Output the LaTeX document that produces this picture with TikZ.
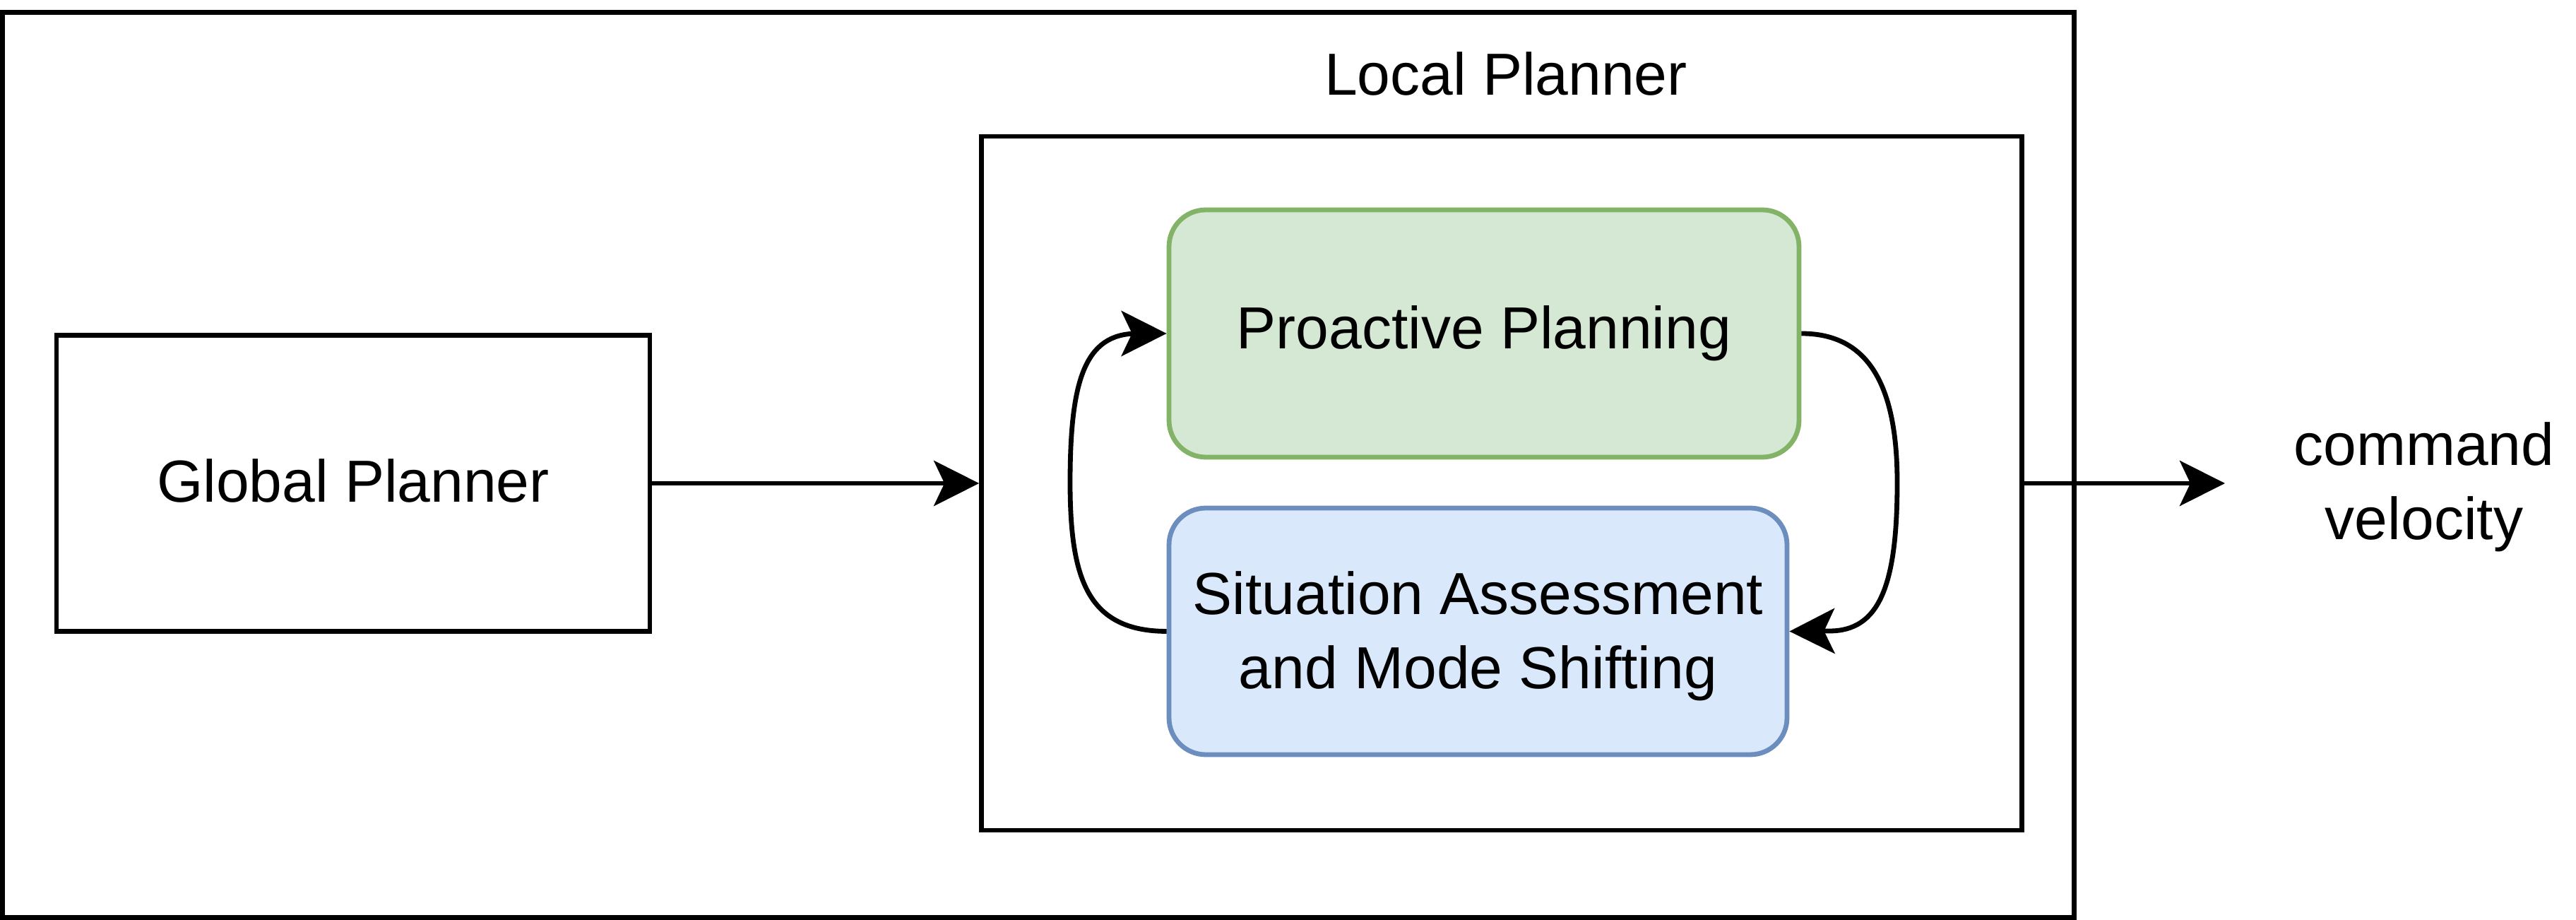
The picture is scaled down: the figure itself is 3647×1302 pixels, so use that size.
\documentclass[tikz,border=0pt]{standalone}
\usepackage{fontspec}
\setmainfont{Liberation Sans}
\usetikzlibrary{arrows.meta}
\definecolor{pgreenfill}{HTML}{D5E8D4}
\definecolor{pgreenline}{HTML}{82B366}
\definecolor{pbluefill}{HTML}{DAE8FC}
\definecolor{pblueline}{HTML}{6C8EBF}
\tikzset{
  box/.style={draw=black, line width=0.68pt, inner sep=0pt, align=center},
  roundbox/.style={box, rounded corners=5.2pt},
  txt/.style={inner sep=0pt, align=center},
  conn/.style={draw=black, line width=0.68pt, -{Stealth[length=6.4pt,width=6.4pt,inset=1.5pt]}},
}
\begin{document}
\begin{tikzpicture}[x=0.1pt,y=-0.1pt,
  every node/.append style={font=\fontsize{8.4pt}{10.5pt}\selectfont}]
\useasboundingbox (0,0) rectangle (3647,1302);
% outer frame
\node[box, minimum width=293.3pt, minimum height=128.1pt] (outer) at (1470,658) {};
% global planner
\node[box, minimum width=84pt, minimum height=41.9pt] (global) at (500,684) {\raisebox{0.4pt}[\height][\depth]{Global Planner}};
% local planner frame
\node[box, minimum width=147.3pt, minimum height=98.2pt] (local) at (2126,684) {};
\node[txt] (locallabel) at (2132,104) {Local Planner};
% inner boxes
\node[roundbox, draw=pgreenline, fill=pgreenfill, minimum width=89.2pt, minimum height=35pt] (pro) at (2101,472) {Proactive Planning};
\node[roundbox, draw=pblueline, fill=pbluefill, minimum width=87.5pt, minimum height=34.9pt] (sit) at (2092.5,893.5) {\raisebox{-0.8pt}[\height][\depth]{\begin{tabular}{@{}c@{}}Situation Assessment\\and Mode Shifting\end{tabular}}};
% output label
\node[txt] (cmd) at (3432,689) {command\\velocity};
\coordinate (cmdin) at (3150,684);
% connectors
\draw[conn] (global.east) -- (local.west);
\draw[conn] (local.east) -- (cmdin);
\draw[conn] (sit.west) .. controls (1540,893) and (1515,820) .. (1515,683)
  .. controls (1515,540) and (1535,472) .. (1610,472) -- (pro.west);
\draw[conn] (pro.east) .. controls (2645,472) and (2686,545) .. (2686,683)
  .. controls (2686,830) and (2660,893) .. (2590,893) -- (sit.east);
\end{tikzpicture}
\end{document}
